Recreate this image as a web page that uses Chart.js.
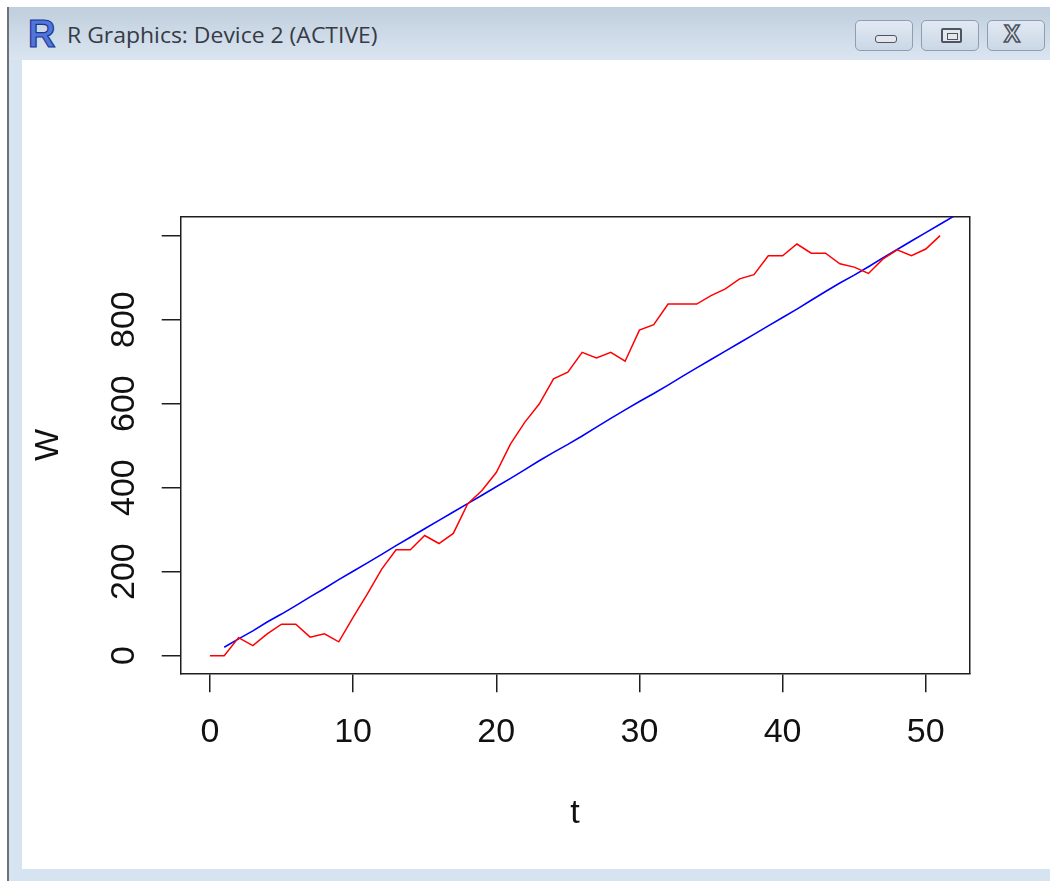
<!DOCTYPE html>
<html>
<head>
<meta charset="utf-8">
<title>R Graphics: Device 2 (ACTIVE)</title>
<script src="https://cdn.jsdelivr.net/npm/chart.js@4.4.1/dist/chart.umd.min.js"></script>
<style>
  body { margin: 0; width: 1050px; height: 881px; overflow: hidden; position: relative; background: #fff; }
  #frame { position: absolute; left: 7px; top: 7px; right: 0; bottom: 0; background: #d6e3f1; border-left: 2px solid #6d7278; }
  #titlebar { position: absolute; left: 0; top: 0; right: 0; height: 53px; background: linear-gradient(#c0cedd, #dae5f1); }
  #client { position: absolute; left: 13px; top: 53px; right: 0; bottom: 12px; background: #fff; }
  #logo { position: absolute; left: 19px; top: 8px; font: bold 38px "Liberation Sans", Arial, sans-serif; color: #4f76dc;
          -webkit-text-stroke: 1.2px #1c3592; line-height: 38px; }
  #caption { position: absolute; left: 58px; top: 13px; font: 22px "Open Sans", "Noto Sans", sans-serif; color: #363b44;
             line-height: 28px; white-space: nowrap; transform-origin: 0 50%; }
  .btn { position: absolute; top: 13px; width: 58px; height: 31px; border: 1.5px solid #8f9db1; border-radius: 5px;
         background: linear-gradient(#e1e9f3, #cbd7e6); box-sizing: border-box; }
  .btn i { position: absolute; display: block; box-sizing: border-box; }
  #bmin { left: 846px; } #bmax { left: 912px; } #bclose { left: 978px; }
  #bmin i { left: 19px; top: 14px; width: 22px; height: 8px; border: 1.5px solid #4d5563; border-radius: 3px; background: #e4e7ec; }
  #bmax i { left: 19px; top: 7px; width: 21px; height: 15px; border: 2px solid #4d5563; border-radius: 2px; background: #e4e7ec; }
  #bmax i::after { content: ""; position: absolute; left: 4px; top: 3px; width: 9px; height: 5px; border: 1.5px solid #4d5563; }
  #bclose i { left: 16px; top: -1px; font: 900 24px "Liberation Sans", Arial, sans-serif; color: #e8ebef; -webkit-text-stroke: 1.6px #4d5563; font-style: normal; }
  #plot { position: absolute; left: 0; top: 0; }
</style>
</head>
<body>
<div id="frame">
  <div id="titlebar">
    <span id="logo">R</span>
    <span id="caption">R Graphics: Device 2 (ACTIVE)</span>
    <div class="btn" id="bmin"><i></i></div>
    <div class="btn" id="bmax"><i></i></div>
    <div class="btn" id="bclose"><i>X</i></div>
  </div>
  <div id="client"></div>
</div>
<canvas id="plot" width="1050" height="881"></canvas>
<script>
// observed series W over t (red) and fitted cumulative line (blue)
const tObserved = [0, 1, 2, 3, 4, 5, 6, 7, 8, 9, 10, 11, 12, 13, 14, 15, 16, 17, 18, 19, 20, 21, 22, 23, 24, 25,
  26, 27, 28, 29, 30, 31, 32, 33, 34, 35, 36, 37, 38, 39, 40, 41, 42, 43, 44, 45, 46, 47, 48, 49, 50, 51];
const wObserved = [0, 0, 43, 24, 52, 75, 75, 44, 52, 33, 91, 147, 206, 252, 252, 286, 267, 291, 361, 393, 436, 504,
  556, 599, 659, 675, 722, 709, 722, 701, 775, 788, 837, 837, 837, 857, 873, 897, 907, 952, 952, 980, 958, 958,
  933, 925, 910, 944, 966, 952, 968, 1000];
const tFitted = [1, 2, 3, 4, 5, 6, 7, 8, 9, 10, 11, 12, 13, 14, 15, 16, 17, 18, 19, 20, 21, 22, 23, 24, 25, 26,
  27, 28, 29, 30, 31, 32, 33, 34, 35, 36, 37, 38, 39, 40, 41, 42, 43, 44, 45, 46, 47, 48, 49, 50, 51, 52];
const wFitted = [20, 40, 59, 80, 99, 119, 140, 160, 181, 201, 221, 241, 262, 282, 302, 322, 342, 362, 382, 402,
  422, 443, 464, 484, 503, 523, 544, 565, 585, 605, 624, 644, 665, 685, 705, 725, 745, 765, 785, 805, 825, 846,
  867, 887, 906, 926, 947, 967, 987, 1007, 1027, 1047];

const xTickValues = [0, 10, 20, 30, 40, 50];
const yTickValues = [0, 200, 400, 600, 800, 1000];
const yTickLabels = ['0', '200', '400', '600', '800', ''];

// fit the title text into the width it takes in the screenshot
const cap = document.getElementById('caption');
cap.style.transform = 'scaleX(' + (311 / cap.offsetWidth) + ')';

const ink = '#1e1e1e';
const axisFont = { family: '"Liberation Sans", Arial, sans-serif', size: 34 };

const toPoints = (xs, ys) => xs.map((x, i) => ({ x, y: ys[i] }));

const frameAxis = (position, fit) => ({
  type: 'linear',
  position,
  display: true,
  grid: { drawOnChartArea: false, drawTicks: false },
  ticks: { display: false },
  border: { color: ink, width: 1.5 },
  afterFit: fit
});

new Chart(document.getElementById('plot'), {
  type: 'line',
  data: {
    datasets: [
      {
        label: 'W',
        data: toPoints(tObserved, wObserved),
        borderColor: '#ff0000',
        borderWidth: 1.5,
        pointRadius: 0,
        tension: 0
      },
      {
        label: 'fit',
        data: toPoints(tFitted, wFitted),
        borderColor: '#0000ff',
        borderWidth: 1.6,
        pointRadius: 0,
        tension: 0
      }
    ]
  },
  options: {
    responsive: false,
    animation: false,
    devicePixelRatio: 1,
    layout: { padding: { left: 0, top: 216.7, right: 80.7, bottom: 0 } },
    plugins: { legend: { display: false }, tooltip: { enabled: false } },
    scales: {
      x: {
        type: 'linear',
        position: 'bottom',
        min: -2.04,
        max: 53.04,
        afterBuildTicks: s => { s.ticks = xTickValues.map(v => ({ value: v })); },
        afterFit: s => { s.height = 881 - 673.3; },
        grid: { drawOnChartArea: false, tickLength: 19, color: ink, lineWidth: 1.5 },
        border: { color: ink, width: 1.5 },
        ticks: { font: axisFont, color: '#111', padding: 20, maxRotation: 0, autoSkip: false },
        title: { display: true, text: 't', font: axisFont, color: '#111', padding: { top: 0, bottom: 47 } }
      },
      y: {
        type: 'linear',
        position: 'left',
        min: -42,
        max: 1045,
        afterBuildTicks: s => { s.ticks = yTickValues.map(v => ({ value: v })); },
        afterFit: s => { s.width = 180.7; },
        grid: { drawOnChartArea: false, tickLength: 19, color: ink, lineWidth: 1.5 },
        border: { color: ink, width: 1.5 },
        ticks: {
          font: axisFont, color: '#111', padding: 9, minRotation: 90, maxRotation: 90,
          crossAlign: 'center', autoSkip: false,
          callback: (v, i) => yTickLabels[i]
        },
        title: { display: true, text: 'W', font: axisFont, color: '#111', padding: { top: 28, bottom: 0 } }
      },
      xTop: frameAxis('top', s => { s.height = 0; }),
      yRight: frameAxis('right', s => { s.width = 0; })
    }
  }
});
</script>
</body>
</html>
